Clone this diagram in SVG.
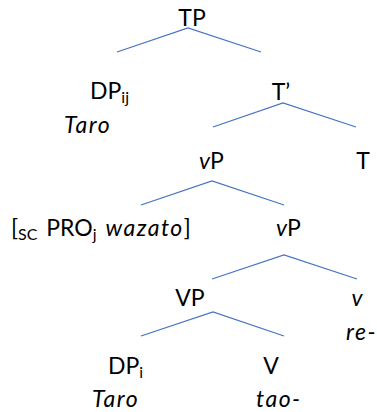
<svg xmlns="http://www.w3.org/2000/svg" width="377" height="412" viewBox="0 0 377 412">
  <style>
    text { font-family: Lato, "Noto Sans", "DejaVu Sans", sans-serif; font-size: 23px; fill: #000; }
    .it { font-style: italic; letter-spacing: 1.5px; }
    .iv { font-style: italic; }
    .sub { font-size: 16px; }
    .mid { text-anchor: middle; }
    .edge { stroke: #4472C4; stroke-width: 1.2; fill: none; }
  </style>
  <rect width="377" height="412" fill="#fff"/>

  <!-- branches -->
  <g id="connectors">
    <polyline class="edge" points="117,52 188,28 261,52"/>
    <polyline class="edge" points="213,127 283,103 356,127"/>
    <polyline class="edge" points="141,205 212,181 284,205"/>
    <polyline class="edge" points="212,279 284,255 357,279"/>
    <polyline class="edge" points="141,336 213,312 284,336"/>
  </g>

  <g id="tp"><text class="mid" x="192" y="26">TP</text></g>
  <g id="dp-ij">
    <text x="90" y="99">DP<tspan class="sub" dy="4">ij</tspan></text>
    <text class="it" x="64" y="133">Taro</text>
  </g>
  <g id="t-bar"><text class="mid" x="281" y="100">T’</text></g>
  <g id="vp-upper"><text x="199" y="169"><tspan class="iv">v</tspan>P</text></g>
  <g id="t-head"><text class="mid" x="363" y="169">T</text></g>
  <g id="sc-adjunct">
    <text x="11" y="236" word-spacing="3">[<tspan class="sub" dy="4">SC</tspan><tspan dy="-4"> PRO</tspan><tspan class="sub" dy="4">j</tspan><tspan dy="-4"> </tspan><tspan class="it">wazato</tspan>]</text>
  </g>
  <g id="vp-lower"><text x="276" y="236"><tspan class="iv">v</tspan>P</text></g>
  <g id="vp-verb"><text class="mid" x="190" y="306">VP</text></g>
  <g id="v-head">
    <text class="iv mid" x="357" y="306">v</text>
    <text class="it" x="346" y="340">re-</text>
  </g>
  <g id="dp-i">
    <text x="108" y="374">DP<tspan class="sub" dy="4">i</tspan></text>
    <text class="it" x="92" y="407">Taro</text>
  </g>
  <g id="v-verb">
    <text class="mid" x="271" y="374">V</text>
    <text class="it" x="256" y="407">tao-</text>
  </g>
</svg>
